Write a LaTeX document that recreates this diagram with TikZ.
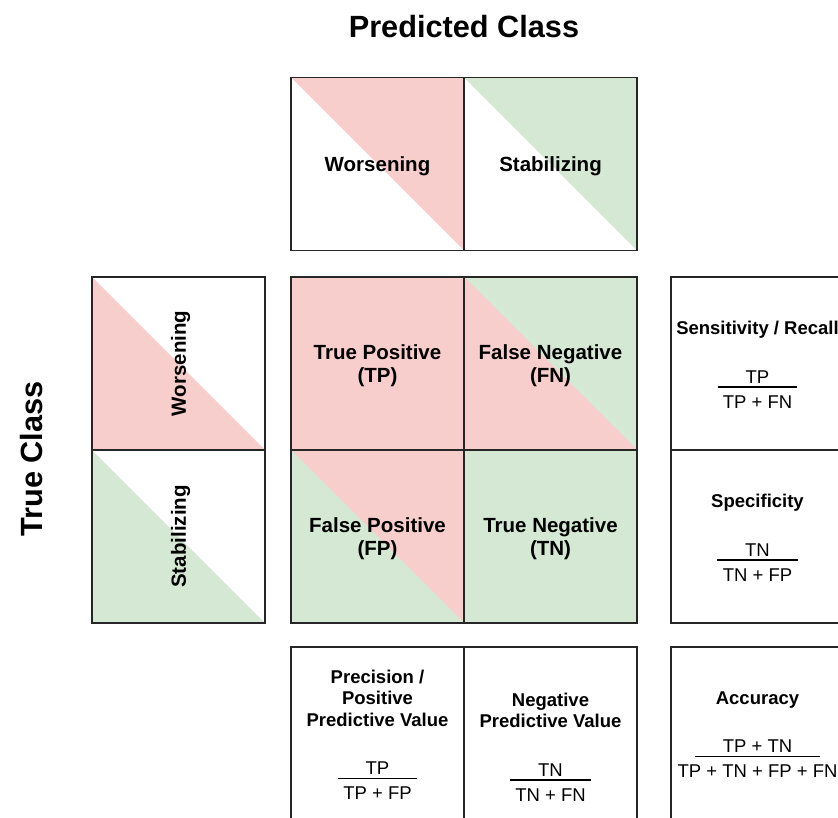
\documentclass[tikz,border=0pt]{standalone}
\usepackage{fontspec}
\setmainfont{Liberation Sans}
\usetikzlibrary{positioning}

\definecolor{worsered}{HTML}{F8CECC}
\definecolor{stablegreen}{HTML}{D5E8D4}

% fraction with a bar a little longer than the numerator
\newlength{\numwd}
\newcommand{\ratio}[2]{%
  \settowidth{\numwd}{#1}%
  \begin{tabular}[t]{@{}c@{}}#1\\[-17pt]\rule{\dimexpr\numwd+56pt\relax}{1.6pt}\\[-1pt]#2\\[-9pt]\end{tabular}}

\begin{document}
\begin{tikzpicture}[x=1pt, y=-1pt,
    cell/.style={draw=black!85, line width=1.4pt, minimum width=173pt, minimum height=173pt,
      inner sep=0pt, outer sep=0pt, align=center},
    bigtext/.style={font=\fontsize{20.5}{22.5}\selectfont\bfseries, text depth=0pt},
    metric/.style={font=\fontsize{18.5}{21.5}\selectfont},
    headtext/.style={font=\fontsize{30.7}{36}\selectfont\bfseries, text depth=0pt},
    upper/.style={path picture={\fill[#1] (path picture bounding box.north west)
      -- (path picture bounding box.north east) -- (path picture bounding box.south east) -- cycle;}},
    lower/.style={path picture={\fill[#1] (path picture bounding box.north west)
      -- (path picture bounding box.south west) -- (path picture bounding box.south east) -- cycle;}}]

    \useasboundingbox (0,0) rectangle (838,818);
    \clip (0,0) rectangle (838,818);

    % Titles
    \node[headtext] (predtitle) at (464,26) {Predicted Class};
    \node[headtext, rotate=90] (truetitle) at (31,459) {True Class};

    % Predicted class cells
    \node[cell, upper=worsered, bigtext] (hw) at (377.5,164) {Worsening};
    \node[cell, upper=stablegreen, bigtext] (hs) at (550.5,164) {Stabilizing};

    % True class cells
    \node[cell, lower=worsered] (lw) at (178.5,363.5) {};
    \node[cell, lower=stablegreen] (ls) at (178.5,536.5) {};
    \node[bigtext, rotate=90] (lwtext) at (lw) {Worsening};
    \node[bigtext, rotate=90] (lstext) at (ls) {Stabilizing};

    % The matrix
    \node[cell, fill=worsered, bigtext] (tp) at (377.5,363.5) {True Positive\\(TP)};
    \node[cell, fill=stablegreen, lower=worsered, bigtext] (fn) at (550.5,363.5) {False Negative\\(FN)};
    \node[cell, fill=worsered, lower=stablegreen, bigtext] (fp) at (377.5,536.5) {False Positive\\(FP)};
    \node[cell, fill=stablegreen, bigtext] (tn) at (550.5,536.5) {True Negative\\(TN)};

    % Rates on the right
    \node[cell, metric] (sens) at (757.5,363.5) {\textbf{Sensitivity / Recall}\\[27pt]\ratio{TP}{TP + FN}};
    \node[cell, metric] (spec) at (757.5,536.5) {\textbf{Specificity}\\[27pt]\ratio{TN}{TN + FP}};

    % Rates below
    \node[cell, metric] (ppv) at (377.5,733.5) {\textbf{Precision /}\\\textbf{Positive}\\\textbf{Predictive Value}\\[27pt]\ratio{TP}{TP + FP}};
    \node[cell, metric] (npv) at (550.5,733.5) {\rule{0pt}{38pt}\textbf{Negative}\\\textbf{Predictive Value}\\[27pt]\ratio{TN}{TN + FN}};
    \node[cell, metric] (acc) at (757.5,733.5) {\textbf{Accuracy}\\[27pt]\ratio{TP + TN}{TP + TN + FP + FN}};

\end{tikzpicture}
\end{document}
